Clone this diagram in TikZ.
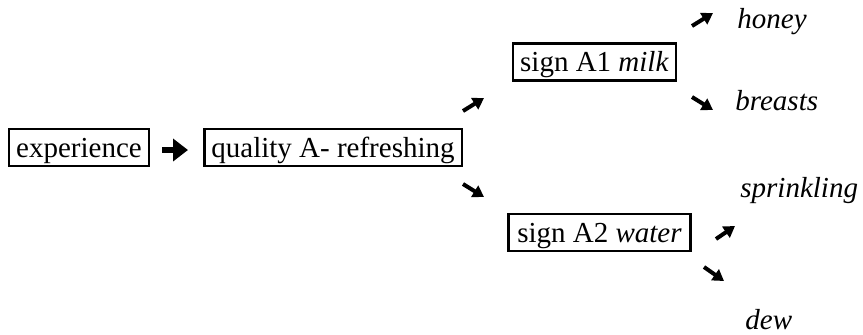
\documentclass[tikz,border=0pt]{standalone}
\usepackage{fontspec}
\setmainfont{Liberation Serif}
\usetikzlibrary{arrows.meta}

\tikzset{
	signbox/.style={draw=black, line width=1.1pt, inner xsep=3.5pt, inner ysep=2pt,
		text height=12pt, text depth=2.5pt},
	word/.style={anchor=base west, inner sep=0pt},
	fatarrow/.style={line width=3.4pt, -{Triangle[width=11pt,length=7.5pt]}},
	thinarrow/.style={line width=2pt, -{Triangle[width=6.5pt,length=5.5pt]}}
}

\begin{document}
\begin{tikzpicture}[x=0.5pt, y=-0.5pt, font=\fontsize{14.5}{17}\selectfont]

	\useasboundingbox (0,0) rectangle (863,334);

	% boxes
	\node[signbox] (exp) at (79,147.5){experience};
	\node[signbox] (qual) at (333,147.5){quality A- refreshing};
	\node[signbox] (milk) at (594.5,62){sign A1 \textit{milk}};
	\node[signbox, minimum width=91pt] (water) at (599.5,232.5){sign A2 \textit{water}};

	% meanings
	\node[word] (honey) at (737,28){\textit{honey}};
	\node[word] (breasts) at (735,110){\textit{breasts}};
	\node[word] (sprinkling) at (740,197){\textit{sprinkling}};
	\node[word] (dew) at (745,329){\textit{dew}};

	% arrow ends
	\coordinate (es) at (162,150);
	\coordinate (ee) at (188,150);
	\coordinate (qms) at (463,111);
	\coordinate (qme) at (484,98);
	\coordinate (qws) at (463,184);
	\coordinate (qwe) at (484,197);
	\coordinate (mhs) at (692,26);
	\coordinate (mhe) at (713,13);
	\coordinate (mbs) at (692,97);
	\coordinate (mbe) at (713,110);
	\coordinate (wss) at (716,239);
	\coordinate (wse) at (735,226);
	\coordinate (wds) at (704,267);
	\coordinate (wde) at (724,281);

	\draw[fatarrow] (es) -- (ee);
	\draw[thinarrow] (qms) -- (qme);
	\draw[thinarrow] (qws) -- (qwe);
	\draw[thinarrow] (mhs) -- (mhe);
	\draw[thinarrow] (mbs) -- (mbe);
	\draw[thinarrow] (wss) -- (wse);
	\draw[thinarrow] (wds) -- (wde);
\end{tikzpicture}
\end{document}
